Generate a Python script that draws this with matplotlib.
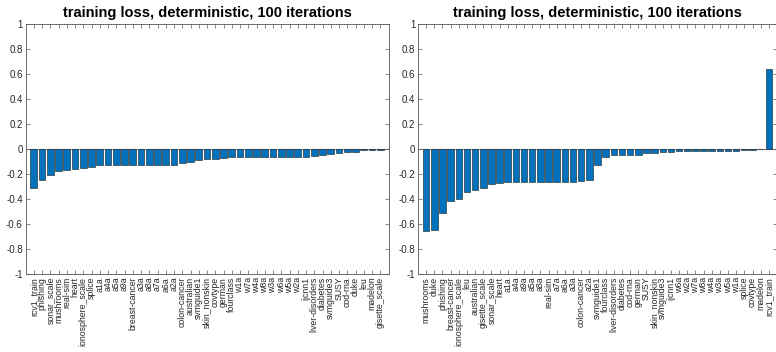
import matplotlib
matplotlib.use('Agg')
import matplotlib.pyplot as plt
import numpy as np

plt.rcParams['font.family'] = ['Liberation Sans', 'DejaVu Sans']

# left panel data
names_left = ['rcv1_train', 'phishing', 'sonar_scale', 'mushrooms', 'real-sim', 'heart',
              'ionosphere_scale', 'splice', 'a1a', 'a4a', 'a5a', 'a9a', 'breast-cancer',
              'a3a', 'a8a', 'a7a', 'a6a', 'a2a', 'colon-cancer', 'australian', 'svmguide1',
              'skin_nonskin', 'covtype', 'german', 'fourclass', 'w1a', 'w7a', 'w4a', 'w8a',
              'w3a', 'w6a', 'w5a', 'w2a', 'ijcnn1', 'liver-disorders', 'diabetes',
              'svmguide3', 'SUSY', 'cod-rna', 'duke', 'leu', 'madelon', 'gisette_scale']
vals_left = [-0.31, -0.25, -0.21, -0.175, -0.166, -0.163, -0.155, -0.145, -0.13, -0.128,
             -0.128, -0.127, -0.127, -0.126, -0.126, -0.126, -0.125, -0.124, -0.108, -0.104,
             -0.09, -0.08, -0.076, -0.07, -0.067, -0.066, -0.066, -0.065, -0.065, -0.065,
             -0.065, -0.064, -0.064, -0.062, -0.053, -0.047, -0.04, -0.034, -0.027, -0.02,
             -0.006, -0.005, -0.004]

# right panel data
names_right = ['mushrooms', 'duke', 'phishing', 'breast-cancer', 'ionosphere_scale', 'leu',
               'australian', 'gisette_scale', 'sonar_scale', 'heart', 'a1a', 'a4a', 'a9a',
               'a5a', 'a8a', 'real-sim', 'a7a', 'a6a', 'a3a', 'colon-cancer', 'a2a',
               'svmguide1', 'fourclass', 'liver-disorders', 'diabetes', 'cod-rna', 'german',
               'SUSY', 'skin_nonskin', 'svmguide3', 'ijcnn1', 'w6a', 'w2a', 'w7a', 'w8a',
               'w4a', 'w3a', 'w5a', 'w1a', 'splice', 'covtype', 'madelon', 'rcv1_train']
vals_right = [-0.654, -0.645, -0.512, -0.416, -0.40, -0.342, -0.326, -0.312, -0.28, -0.275,
              -0.267, -0.265, -0.265, -0.262, -0.262, -0.262, -0.262, -0.262, -0.26, -0.257,
              -0.25, -0.13, -0.067, -0.051, -0.05, -0.048, -0.046, -0.032, -0.03, -0.026,
              -0.021, -0.015, -0.015, -0.014, -0.014, -0.013, -0.013, -0.012, -0.012,
              -0.005, -0.004, -0.003, 0.64]

title = 'training loss, deterministic, 100 iterations'
yticks = np.round(np.arange(-1, 1.01, 0.2), 1) + 0.0

fig = plt.figure(figsize=(7.76, 3.52), dpi=100)
ax1 = fig.add_axes([25.5/776, 78/352, 363/776, 250/352])
ax2 = fig.add_axes([418/776, 78/352, 359/776, 250/352])

for ax, names, vals in [(ax1, names_left, vals_left), (ax2, names_right, vals_right)]:
    x = np.arange(1, len(names) + 1)
    ax.axhline(0, color='#8c8c8c', lw=0.8, zorder=1)
    ax.bar(x, vals, width=0.8, color='#0072BD', edgecolor='#1a1a1a', linewidth=0.4, zorder=2)
    ax.set_xlim(0, len(names) + 1)
    ax.set_ylim(-1, 1)
    ax.set_xticks(x)
    ax.set_xticklabels(names, rotation=90, fontsize=6.3, color='#262626')
    ax.set_yticks(yticks)
    ax.set_yticklabels(['0' if abs(v) < 1e-9 else '%g' % v for v in yticks],
                       fontsize=7, color='#262626')
    ax.tick_params(direction='in', top=True, right=True, length=3, width=0.5,
                   color='#555555', pad=2)
    for s in ax.spines.values():
        s.set_color('#555555')
        s.set_linewidth(0.6)
    ax.set_title(title, fontsize=10.5, fontweight='bold', pad=5)

fig.savefig('out.png', dpi=100)
